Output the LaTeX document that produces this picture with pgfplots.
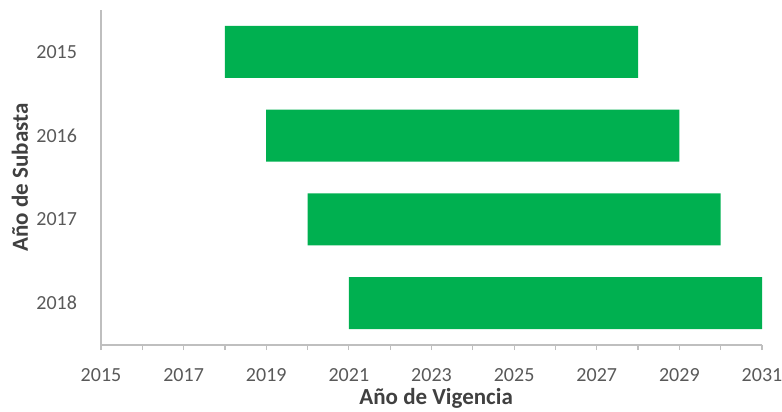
\documentclass[border=0pt]{standalone}
\usepackage{fontspec}
\setmainfont{Carlito}
\usepackage{pgfplots}
\pgfplotsset{compat=1.18}
\definecolor{barverde}{HTML}{00B050}
\definecolor{ejegris}{HTML}{BFBFBF}
\definecolor{textogris}{HTML}{595959}

\begin{document}
\begin{tikzpicture}
\begin{axis}[
  scale only axis, width=330.5pt, height=167.5pt,
  xbar stacked, bar width=0.62,
  xmin=2015, xmax=2031, ymin=0.5, ymax=4.5, y dir=reverse,
  axis lines*=left, axis line style={ejegris, line width=0.8pt},
  xtick={2015,2017,...,2031}, minor xtick={2016,2018,...,2030},
  ytick={1,2,3,4}, yticklabels={2015,2016,2017,2018},
  major tick length=2.5pt, minor tick length=2.5pt,
  tick align=outside, tick style={ejegris, line width=0.6pt},
  ytick style={draw=none},
  /pgf/number format/1000 sep={}, /pgf/number format/assume math mode=true,
  tick label style={font=\fontsize{10}{12}\selectfont, text=textogris},
  xticklabel style={anchor=center, yshift=-12.5pt},
  yticklabel style={anchor=east, xshift=-6pt},
  xlabel={Año de Vigencia}, ylabel={Año de Subasta},
  label style={font=\fontsize{11.5}{13}\selectfont\bfseries, text=black!75},
  xlabel style={at={(axis description cs:0.507,0)}, anchor=center, yshift=-26.5pt},
  ylabel style={at={(axis description cs:0,0.5)}, anchor=center, yshift=40.5pt},
]
\addplot[draw=none, fill=none] coordinates {(2018,1) (2019,2) (2020,3) (2021,4)};
\addplot[draw=none, fill=barverde] coordinates {(10,1) (10,2) (10,3) (10,4)};
\end{axis}
\pgfresetboundingbox
\path ([shift={(-50.5pt,-33.5pt)}]current axis.south west) rectangle ([shift={(10pt,5pt)}]current axis.north east);
\end{tikzpicture}
\end{document}
